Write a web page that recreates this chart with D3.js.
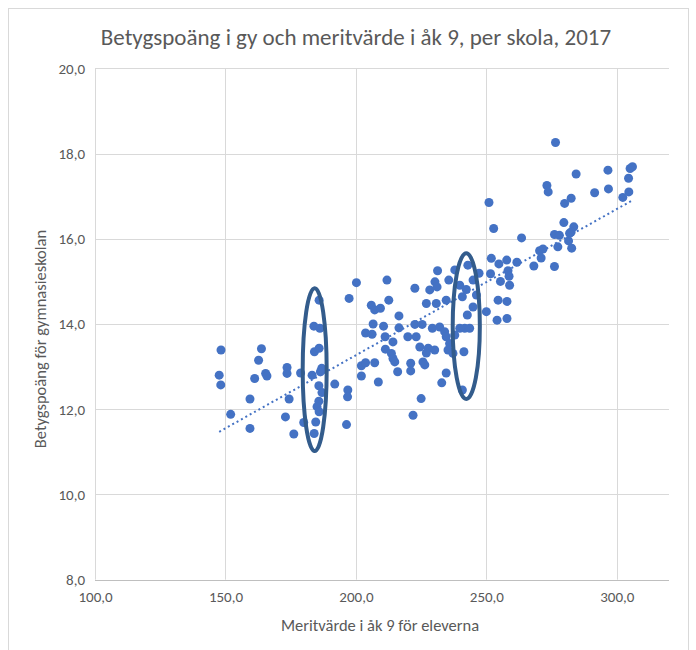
<!DOCTYPE html>
<html>
<head>
<meta charset="utf-8">
<script src="https://cdn.jsdelivr.net/npm/d3@7"></script>
<style>
  body { margin: 0; background: #fff; }
  svg { font-family: "Carlito", "Liberation Sans", Arial, sans-serif; }
</style>
</head>
<body>
<svg width="696" height="650"></svg>
<script>
// meritvärde åk 9 (x) and betygspoäng gy (y), one entry per school
var meritvarde = [
  148.3, 163.8, 162.7, 147.6, 148.2, 161.2, 165.4, 165.9, 173.6, 173.6,
  159.4, 174.4, 152.0, 173.0, 159.4, 178.8, 176.2, 180.0, 184.6, 184.0,
  185.9, 183.9, 186.2, 184.1, 185.9, 186.9, 186.4, 183.2, 185.8, 187.0,
  185.8, 185.1, 185.9, 191.9, 196.9, 196.8, 196.4, 197.4, 200.2, 211.9,
  205.9, 207.2, 209.4, 212.6, 216.5, 222.6, 231.3, 230.3, 228.3, 231.1,
  237.9, 235.6, 227.0, 230.8, 234.6, 206.6, 203.7, 206.2, 210.6, 211.2,
  216.5, 214.2, 211.3, 213.6, 214.2, 214.9, 202.1, 203.7, 207.2, 202.1,
  208.6, 216.0, 221.0, 221.0, 225.7, 226.4, 221.9, 225.0, 222.6, 225.4,
  223.1, 219.9, 224.5, 227.7, 230.2, 227.0, 229.3, 232.1, 234.0, 234.6,
  235.9, 235.3, 237.2, 234.6, 232.9, 237.9, 239.8, 242.3, 240.8, 241.7,
  243.6, 239.8, 242.7, 244.9, 241.4, 240.8, 242.9, 244.9, 246.2, 247.2,
  250.0, 254.5, 257.9, 254.1, 257.9, 251.6, 255.4, 258.3, 258.7, 258.9,
  257.8, 254.8, 251.9, 261.7, 251.0, 252.8, 263.5, 268.2, 276.1, 271.7,
  270.4, 271.0, 277.4, 281.5, 282.7, 276.1, 278.0, 283.5, 282.5, 281.9,
  279.7, 282.5, 280.0, 273.2, 273.7, 284.4, 276.5, 296.6, 296.8, 291.5,
  305.1, 306.0, 304.5, 304.6, 302.3
];
var betygspoang = [
  13.39, 13.42, 13.15, 12.80, 12.57, 12.72, 12.84, 12.78, 12.98, 12.84,
  12.24, 12.24, 11.88, 11.82, 11.55, 12.85, 11.42, 11.69, 11.70, 11.43,
  14.56, 13.95, 13.90, 13.35, 13.43, 12.96, 12.88, 12.80, 12.55, 12.39,
  12.19, 12.06, 11.94, 12.59, 12.45, 12.29, 11.64, 14.60, 14.97, 15.03,
  14.44, 14.33, 14.37, 14.56, 14.19, 14.84, 15.25, 14.99, 14.80, 14.87,
  15.27, 15.03, 14.48, 14.48, 14.56, 14.00, 13.79, 13.76, 13.95, 13.70,
  13.91, 13.58, 13.41, 13.31, 13.19, 13.11, 13.02, 13.09, 13.09, 12.78,
  12.64, 12.88, 13.08, 12.90, 13.11, 13.04, 11.86, 12.25, 13.99, 13.99,
  13.70, 13.70, 13.46, 13.43, 13.39, 13.32, 13.90, 13.93, 13.82, 13.70,
  13.54, 13.39, 13.31, 12.85, 12.62, 13.74, 14.91, 14.81, 14.64, 13.90,
  13.90, 13.90, 14.21, 14.40, 13.35, 12.45, 15.38, 15.03, 14.68, 15.19,
  14.29, 14.56, 14.53, 14.09, 14.13, 15.18, 15.00, 15.25, 15.12, 14.91,
  15.50, 15.41, 15.54, 15.45, 16.85, 16.24, 16.02, 15.36, 15.35, 15.76,
  15.72, 15.55, 15.81, 15.95, 15.78, 16.10, 16.08, 16.28, 16.16, 16.13,
  16.38, 16.95, 16.83, 17.25, 17.10, 17.52, 18.26, 17.61, 17.17, 17.08,
  17.65, 17.69, 17.42, 17.10, 16.97
];

var xTicks = [100, 150, 200, 250, 300];
var yTicks = [8, 10, 12, 14, 16, 18, 20];

// hand-drawn ellipses: centre and half-size in data units
var ringX = [184.2, 242.3];
var ringY = [12.93, 13.95];
var ringRx = [4.6, 5.2];
var ringRy = [1.91, 1.71];

var title = "Betygspoäng i gy och meritvärde i åk 9, per skola, 2017";
var xTitle = "Meritvärde i åk 9 för eleverna";
var yTitle = "Betygspoäng för gymnasieskolan";

var svg = d3.select("svg"),
    pLeft = 95, pRight = 669, pTop = 68.3, pBottom = 579.7;

var fmt = function(d) { return d3.format(".1f")(d).replace(".", ","); };

var x = d3.scaleLinear().domain([100, 320]).range([pLeft, pRight]);
var y = d3.scaleLinear().domain([8, 20]).range([pBottom, pTop]);

var points = meritvarde.map(function(d, i) { return {x: d, y: betygspoang[i]}; });

// chart frame
svg.append("rect")
    .attr("x", 8.5).attr("y", 8.5)
    .attr("width", 680).attr("height", 680)
    .attr("fill", "none")
    .attr("stroke", "#d9d9d9");

svg.append("text")
    .attr("x", 356).attr("y", 45)
    .attr("text-anchor", "middle")
    .attr("font-size", 23)
    .attr("fill", "#595959")
    .text(title);

// grid
svg.append("g")
    .selectAll("line")
    .data(xTicks)
    .enter()
        .append("line")
        .attr("x1", function(d) { return Math.round(x(d)) + 0.5; })
        .attr("x2", function(d) { return Math.round(x(d)) + 0.5; })
        .attr("y1", pTop).attr("y2", pBottom)
        .attr("stroke", "#d9d9d9");

svg.append("g")
    .selectAll("line")
    .data(yTicks)
    .enter()
        .append("line")
        .attr("x1", pLeft).attr("x2", pRight)
        .attr("y1", function(d) { return Math.round(y(d)) + 0.5; })
        .attr("y2", function(d) { return Math.round(y(d)) + 0.5; })
        .attr("stroke", "#d9d9d9");

svg.append("line")
    .attr("x1", pLeft).attr("x2", pRight)
    .attr("y1", Math.round(pBottom) + 0.5).attr("y2", Math.round(pBottom) + 0.5)
    .attr("stroke", "#bfbfbf");

// axes, labels only
var xAxis = svg.append("g")
    .attr("transform", "translate(0," + (pBottom + 9) + ")")
    .call(d3.axisBottom(x).tickValues(xTicks).tickFormat(fmt).tickSize(0));
var yAxis = svg.append("g")
    .attr("transform", "translate(" + (pLeft - 7) + ",0)")
    .call(d3.axisLeft(y).tickValues(yTicks).tickFormat(fmt).tickSize(0));

[xAxis, yAxis].forEach(function(a) {
    a.select(".domain").remove();
    a.selectAll("text")
        .attr("font-family", "Carlito, 'Liberation Sans', Arial, sans-serif")
        .attr("font-size", 15)
        .attr("fill", "#595959");
});

svg.append("text")
    .attr("x", (pLeft + pRight) / 2 - 2).attr("y", 631)
    .attr("text-anchor", "middle")
    .attr("font-size", 16.5)
    .attr("fill", "#595959")
    .text(xTitle);

svg.append("text")
    .attr("transform", "translate(46," + ((pTop + pBottom) / 2 + 15) + ") rotate(-90)")
    .attr("text-anchor", "middle")
    .attr("font-size", 16.5)
    .attr("fill", "#595959")
    .text(yTitle);

// linear trendline
var mx = d3.mean(points, function(d) { return d.x; }),
    my = d3.mean(points, function(d) { return d.y; }),
    slope = d3.sum(points, function(d) { return (d.x - mx) * (d.y - my); }) /
            d3.sum(points, function(d) { return (d.x - mx) * (d.x - mx); }),
    icpt = my - slope * mx,
    xr = d3.extent(points, function(d) { return d.x; });

svg.append("line")
    .attr("x1", x(xr[0])).attr("y1", y(icpt + slope * xr[0]))
    .attr("x2", x(xr[1])).attr("y2", y(icpt + slope * xr[1]))
    .attr("stroke", "#4472c4")
    .attr("stroke-width", 2)
    .attr("stroke-dasharray", "2,3");

svg.append("g")
    .selectAll("circle")
    .data(points)
    .enter()
        .append("circle")
        .attr("cx", function(d) { return x(d.x); })
        .attr("cy", function(d) { return y(d.y); })
        .attr("r", 4.5)
        .attr("fill", "#4472c4");

svg.append("g")
    .selectAll("ellipse")
    .data(ringX)
    .enter()
        .append("ellipse")
        .attr("cx", function(d) { return x(d); })
        .attr("cy", function(d, i) { return y(ringY[i]); })
        .attr("rx", function(d, i) { return x(d + ringRx[i]) - x(d); })
        .attr("ry", function(d, i) { return y(ringY[i] - ringRy[i]) - y(ringY[i]); })
        .attr("fill", "none")
        .attr("stroke", "#335c8c")
        .attr("stroke-width", 4);
</script>
</body>
</html>
